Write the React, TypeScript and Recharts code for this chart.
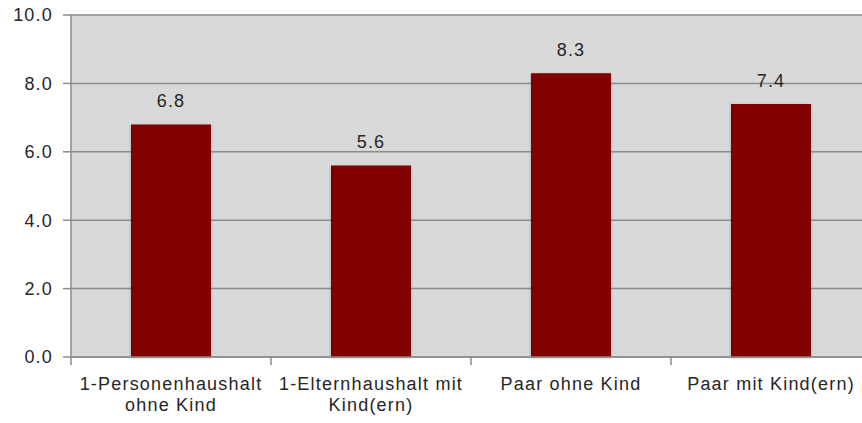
import React from 'react';
import { BarChart, Bar, XAxis, YAxis, CartesianGrid, LabelList } from 'recharts';

const categories = [
  ['1-Personenhaushalt', 'ohne Kind'],
  ['1-Elternhaushalt mit', 'Kind(ern)'],
  ['Paar ohne Kind'],
  ['Paar mit Kind(ern)'],
];
const values = [6.8, 5.6, 8.3, 7.4];
const yTicks = [0, 2, 4, 6, 8, 10];

const data = categories.map((lines, i) => ({ name: lines.join(' '), value: values[i] }));

const FONT = '"Liberation Sans", Arial, sans-serif';
const AXIS = '#8c8c8c';
const TEXT = '#262626';

function CategoryTick(props: any) {
  const { x, y, payload, index } = props;
  const band = 800 / categories.length;
  const lines = categories[payload.index ?? index] || [payload.value];
  return (
    <g>
      <line x1={x - band / 2} y1={y - 8} x2={x - band / 2} y2={y} stroke={AXIS} strokeWidth={1.5} />
      {index === categories.length - 1 && (
        <line x1={x + band / 2} y1={y - 8} x2={x + band / 2} y2={y} stroke={AXIS} strokeWidth={1.5} />
      )}
      <text x={x} y={y} textAnchor="middle" fill={TEXT} fontSize={18} letterSpacing={1.2} fontFamily={FONT}>
        {lines.map((l: string, k: number) => (
          <tspan key={k} x={x} dy={k === 0 ? 25 : 21}>{l}</tspan>
        ))}
      </text>
    </g>
  );
}

export default function App() {
  return (
    <div style={{ position: 'absolute', left: 0, top: 0, width: 862, height: 423, overflow: 'hidden', background: '#fff' }}>
      <BarChart
        width={880}
        height={423}
        data={data}
        margin={{ top: 15, right: 9, bottom: 0, left: 0 }}
        barCategoryGap="30%"
      >
        <defs>
          <filter id="barShadow" x="-20%" y="-10%" width="140%" height="120%">
            <feDropShadow dx="0" dy="1" stdDeviation="1.5" floodColor="#000" floodOpacity="0.25" />
          </filter>
        </defs>
        <CartesianGrid vertical={false} stroke={AXIS} strokeWidth={1.5} fill="#d9d9d9" strokeOpacity={1} />
        <XAxis
          dataKey="name"
          height={66}
          axisLine={{ stroke: AXIS, strokeWidth: 1.5 }}
          tickLine={false}
          tick={<CategoryTick />}
          interval={0}
        />
        <YAxis
          width={71}
          domain={[0, 10]}
          ticks={yTicks}
          axisLine={{ stroke: AXIS, strokeWidth: 1.5 }}
          tickLine={{ stroke: AXIS, strokeWidth: 1.5 }}
          tickSize={8}
          tickMargin={10}
          tickFormatter={(v: number) => v.toFixed(1)}
          tick={{ fill: TEXT, fontSize: 18, letterSpacing: 1.2, fontFamily: FONT }}
        />
        <Bar dataKey="value" fill="#800000" isAnimationActive={false} style={{ filter: 'url(#barShadow)' }}>
          <LabelList
            dataKey="value"
            position="top"
            offset={17}
            formatter={(v: number) => v.toFixed(1)}
            fill={TEXT}
            fontSize={18}
            letterSpacing={1.2}
            fontFamily={FONT}
          />
        </Bar>
      </BarChart>
    </div>
  );
}
